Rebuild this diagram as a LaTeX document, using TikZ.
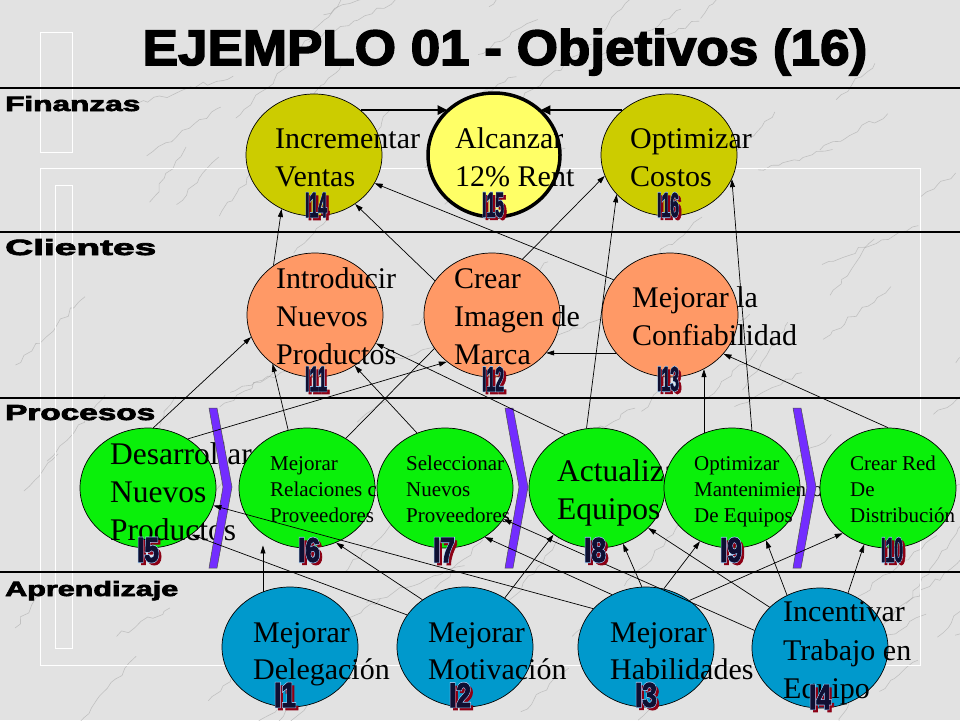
\documentclass[tikz,border=0pt]{standalone}
\usepackage{fontspec}
\usepackage{graphicx}
\setmainfont{Liberation Serif}
\setsansfont{Liberation Sans}
\newfontfamily\heavy{Liberation Sans}[FakeBold=3]
\newfontfamily\labfont{Liberation Sans}[FakeBold=3]
\newfontfamily\halofont{Liberation Sans}[FakeBold=7]
\usetikzlibrary{shapes.geometric,arrows.meta,calc,decorations.pathmorphing}
\pgfdeclarelayer{bg}
\pgfdeclarelayer{behind}
\pgfsetlayers{bg,behind,main}

\definecolor{bgc}{RGB}{226,226,226}
\definecolor{veinc}{RGB}{165,165,165}
\definecolor{finc}{RGB}{204,204,0}
\definecolor{renc}{RGB}{255,255,102}
\definecolor{clic}{RGB}{255,153,102}
\definecolor{proc}{RGB}{10,240,10}
\definecolor{aprc}{RGB}{0,153,204}
\definecolor{chevc}{RGB}{115,45,255}
\definecolor{labred}{RGB}{140,0,20}
\definecolor{labblue}{RGB}{160,210,255}
\definecolor{labnavy}{RGB}{15,15,50}

\tikzset{
  obj/.style={ellipse, draw=black, line width=0.7pt, minimum width=136pt, minimum height=120pt, inner sep=0pt},
  big/.style={anchor=base west, inner sep=0pt, font=\fontsize{30}{36}\selectfont},
  bigger/.style={anchor=base west, inner sep=0pt, font=\fontsize{31.5}{38}\selectfont},
  small/.style={anchor=base west, inner sep=0pt, font=\fontsize{21}{25}\selectfont},
  lnk/.style={draw=black, line width=0.7pt, -{Triangle[length=8pt,width=5pt]}},
  thk/.style={draw=black, line width=2.6pt, -{Triangle[length=10pt,width=9pt]}},
  lab/.style={inner sep=0pt},
  sec/.style={anchor=base west, inner sep=0pt},
  rulel/.style={draw=black, line width=1.2pt},
  chev/.style={fill=chevc, draw=black!70, line width=0.5pt},
  decor/.style={draw=white, line width=1pt},
  vein/.style={draw=veinc, line width=0.6pt, opacity=0.55, decorate,
    decoration={random steps, segment length=7pt, amplitude=2.5pt}},
}
\newcommand\labcore[2]{\resizebox{22pt}{24pt}{\color{#1}\labfont\bfseries #2}}
\newcommand\labhalo[2]{\resizebox{22pt}{24pt}{\color{#1}\halofont\bfseries #2}}
\newcommand\ilab[3]{%
  \node[lab] (#1s) at ($(#2)+(2.8,2.8)$) {\labcore{labred}{#3}};
  \node[lab] (#1h) at (#2) {\labhalo{labblue}{#3}};
  \node[lab] (#1) at (#2) {\labcore{labnavy}{#3}};
}
\newcommand\chevron[1]{%
  \fill[chev] (#1,408) -- (#1+8,408) -- (#1+23,487) -- (#1+8,568) -- (#1,568) -- (#1+14,487) -- cycle;
}

\begin{document}
\begin{tikzpicture}[x=1pt,y=-1pt]
\path[use as bounding box] (0,0) rectangle (960,720);
\begin{pgfonlayer}{bg}
  \fill[bgc] (0,0) rectangle (960,720);
  \pgfmathsetseed{11}
  \foreach \i in {1,...,90} {
    \pgfmathsetmacro\xa{rnd*1000-20}
    \pgfmathsetmacro\ya{rnd*760}
    \pgfmathsetmacro\dx{30+rnd*70}
    \pgfmathsetmacro\dy{20+rnd*60}
    \draw[vein] (\xa,\ya) -- ++(\dx,-\dy);
  }
\end{pgfonlayer}

% template decorations
\draw[decor] (40,168) rectangle (920,665);
\draw[decor] (40,32) rectangle (72,152);
\draw[decor] (55,185) rectangle (72,648);

% title
\node[anchor=base, inner sep=0pt] (title) at (505,65)
  {\scalebox{1.06}[1]{\heavy\bfseries\fontsize{50}{50}\selectfont EJEMPLO 01 - Objetivos (16)}};

% separators
\coordinate (r1a) at (0,88);  \coordinate (r1b) at (960,88);
\coordinate (r2a) at (0,232); \coordinate (r2b) at (960,232);
\coordinate (r3a) at (0,398); \coordinate (r3b) at (960,398);
\coordinate (r4a) at (0,572); \coordinate (r4b) at (960,572);
\draw[rulel] (r1a) -- (r1b);
\draw[rulel] (r2a) -- (r2b);
\draw[rulel] (r3a) -- (r3b);
\draw[rulel] (r4a) -- (r4b);

% section labels
\node[sec] (sFin) at (5,111) {\resizebox{135pt}{15pt}{\heavy\bfseries Finanzas}};
\node[sec] (sCli) at (5,255) {\resizebox{151pt}{16pt}{\heavy\bfseries Clientes}};
\node[sec] (sPro) at (5,420) {\resizebox{150pt}{15pt}{\heavy\bfseries Procesos}};
\node[sec] (sApr) at (5,596) {\resizebox{173pt}{15pt}{\heavy\bfseries Aprendizaje}};

% ---------- Finanzas ----------
\node[obj, fill=finc, minimum height=122pt] (I14) at (314,155) {};
\node[big] (t14a) at (275,148) {Incrementar};
\node[big] (t14b) at (275,186) {Ventas};
\node[obj, fill=renc, line width=3.5pt, minimum width=132pt, minimum height=124pt] (I15) at (494,155) {};
\node[big] (t15a) at (455,148) {Alcanzar};
\node[big] (t15b) at (455,186) {12\% Rent};
\node[obj, fill=finc, minimum height=122pt] (I16) at (669,155) {};
\node[big] (t16a) at (630,148) {Optimizar};
\node[big] (t16b) at (630,186) {Costos};

% ---------- Clientes ----------
\node[obj, fill=clic, minimum height=124pt] (I11) at (315,315) {};
\node[big] (t11a) at (276,288) {Introducir};
\node[big] (t11b) at (276,326) {Nuevos};
\node[big] (t11c) at (276,364) {Productos};
\node[obj, fill=clic, minimum height=124pt] (I12) at (492,315) {};
\node[big] (t12a) at (454,288) {Crear};
\node[big] (t12b) at (454,326) {Imagen de};
\node[big] (t12c) at (454,364) {Marca};
\node[obj, fill=clic, minimum height=124pt] (I13) at (670,315) {};
\node[big] (t13a) at (632,307) {Mejorar la};
\node[big] (t13b) at (632,345) {Confiabilidad};

% ---------- Procesos ----------
\node[obj, fill=proc] (I5) at (148,488) {};
\node[bigger] (t5a) at (110,464) {Desarrollar};
\node[bigger] (t5b) at (110,502) {Nuevos};
\node[bigger] (t5c) at (110,540) {Productos};
\node[obj, fill=proc] (I6) at (307,488) {};
\node[small] (t6a) at (270,470) {Mejorar};
\node[small] (t6b) at (270,496) {Relaciones con};
\node[small] (t6c) at (270,522) {Proveedores};
\node[obj, fill=proc] (I7) at (445,488) {};
\node[small] (t7a) at (406,470) {Seleccionar};
\node[small] (t7b) at (406,496) {Nuevos};
\node[small] (t7c) at (406,522) {Proveedores};
\node[obj, fill=proc] (I8) at (597,488) {};
\node[bigger] (t8a) at (557,481) {Actualizar};
\node[bigger] (t8b) at (557,519) {Equipos};
\node[obj, fill=proc] (I9) at (732,488) {};
\node[small] (t9a) at (694,470) {Optimizar};
\node[small] (t9b) at (694,496) {Mantenimiento};
\node[small] (t9c) at (694,522) {De Equipos};
\node[obj, fill=proc] (I10) at (888,488) {};
\node[small] (t10a) at (850,470) {Crear Red};
\node[small] (t10b) at (850,496) {De};
\node[small] (t10c) at (850,522) {Distribución};
\chevron{209}
\chevron{505}
\chevron{793}

% ---------- Aprendizaje ----------
\node[obj, fill=aprc] (I1) at (290,647) {};
\node[obj, fill=aprc] (I2) at (465,647) {};
\node[obj, fill=aprc] (I3) at (646,647) {};
\node[obj, fill=aprc] (I4) at (820,648) {};
\node[big] (t1a) at (253,642) {Mejorar};
\node[big] (t1b) at (253,679) {Delegación};
\node[big] (t2a) at (428,642) {Mejorar};
\node[big] (t2b) at (428,679) {Motivación};
\node[big] (t3a) at (610,642) {Mejorar};
\node[big] (t3b) at (610,679) {Habilidades};
\node[big] (t4a) at (783,621) {Incentivar};
\node[big] (t4b) at (783,660) {Trabajo en};
\node[big] (t4c) at (783,698) {Equipo};

% ---------- connectors ----------
\begin{pgfonlayer}{behind}
  \draw[lnk] (I6.52) -- (I16.198);
\end{pgfonlayer}
\draw[thk] (I14.44) -- (I14.44 -| I15.135);
\draw[thk] (I16.136) -- (I16.136 -| I15.45);

\draw[lnk] (I11.130) -- (I14.239);
\draw[lnk] (I12.149) -- (I14.310);
\draw[lnk] (I13.148) -- (I14.335);
\draw[lnk] (I8.100) -- (I16.217);
\draw[lnk] (I9.71) -- (I16.339);

\draw[lnk] (I13.215) -- (I13.215 -| I12.325);

\draw[lnk] (I5.85) -- (I11.199);
\draw[lnk] (I5.51) -- (I12.226);
\draw[lnk] (I6.108) -- (I11.229);
\draw[lnk] (I7.117) -- (I11.308);
\draw[lnk] (I8.121) -- (I11.335);
\draw[lnk] (I9.117) -- (I9.117 |- I13.302);
\draw[lnk] (I10.90) -- (I13.324);

\draw[lnk] (I1.116) -- (I1.116 |- I6.250);
\draw[lnk] (I2.151) -- (I5.313);
\draw[lnk] (I2.132) -- (I6.298);
\draw[lnk] (I2.51) -- (I8.227);
\draw[lnk] (I3.144) -- (I5.345);
\draw[lnk] (I3.123) -- (I7.309);
\draw[lnk] (I3.94) -- (I8.295);
\draw[lnk] (I3.73) -- (I9.239);
\draw[lnk] (I3.47) -- (I10.225);
\draw[lnk] (I4.165) -- (I7.332);
\draw[lnk] (I4.141) -- (I8.322);
\draw[lnk] (I4.122) -- (I9.303);
\draw[lnk] (I4.63) -- (I10.247);

% ---------- indicator labels ----------
\ilab{L14}{316,205}{I14}
\ilab{L15}{493,205}{I15}
\ilab{L16}{668,205}{I16}
\ilab{L11}{316,379}{I11}
\ilab{L12}{493,379}{I12}
\ilab{L13}{668,379}{I13}
\ilab{L5}{148,550}{I5}
\ilab{L6}{309,550}{I6}
\ilab{L7}{444,550}{I7}
\ilab{L8}{595,550}{I8}
\ilab{L9}{731,550}{I9}
\ilab{L10}{892,550}{I10}
\ilab{L1}{285,695}{I1}
\ilab{L2}{460,695}{I2}
\ilab{L3}{646,695}{I3}
\ilab{L4}{820,697}{I4}
\end{tikzpicture}
\end{document}
